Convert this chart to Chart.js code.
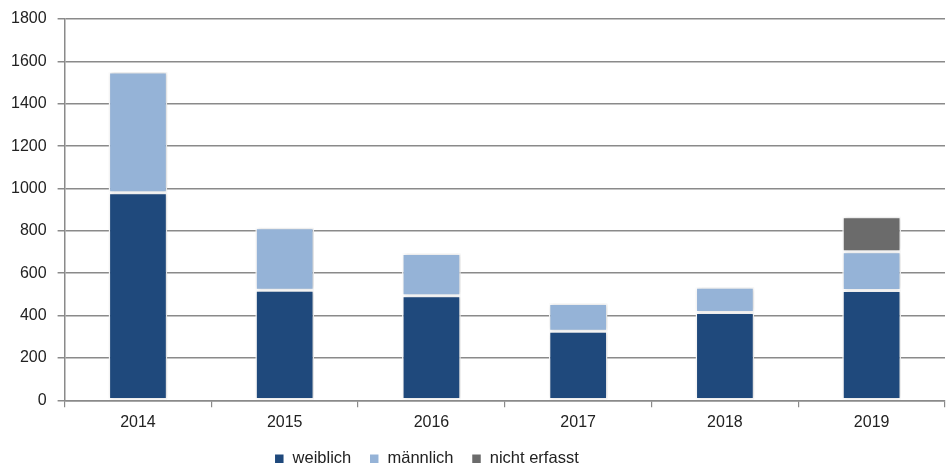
<!DOCTYPE html>
<html>
<head>
<meta charset="utf-8">
<script src="https://cdn.jsdelivr.net/npm/chart.js@4"></script>
<style>
html,body{margin:0;padding:0;background:#fff;}
#wrap{width:947px;height:470px;position:relative;}
</style>
</head>
<body>
<div id="wrap"><canvas id="c" width="947" height="470"></canvas></div>
<script>
const categories = ["2014", "2015", "2016", "2017", "2018", "2019"];
const weiblich = [980, 520, 493, 326, 414, 518];
const maennlich = [570, 294, 200, 131, 120, 183];
const nichtErfasst = [null, null, null, null, null, 165];
const seriesLabels = ["weiblich", "männlich", "nicht erfasst"];
const yTicks = [0, 200, 400, 600, 800, 1000, 1200, 1400, 1600, 1800];

const FONT = "'Liberation Sans', Arial, sans-serif";

const legendTweak = {
  id: 'legendTweak',
  beforeLayout(chart) {
    const l = chart.legend;
    if (l && !l._patched) {
      const f = l.fit.bind(l);
      l.fit = function () { f(); this.height -= 13; };
      l._patched = true;
    }
  },
  afterLayout(chart) {
    const l = chart.legend;
    if (l) { l.left -= 46; l.right -= 46; l.top -= 6; l.bottom -= 6; }
  }
};
const barShadow = {
  id: 'barShadow',
  beforeDatasetsDraw(chart) {
    const ctx = chart.ctx;
    ctx.save();
    ctx.shadowColor = 'rgba(0,0,0,0.18)';
    ctx.shadowBlur = 4;
    ctx.shadowOffsetX = 1;
    ctx.shadowOffsetY = 0;
  },
  afterDatasetsDraw(chart) { chart.ctx.restore(); }
};

const mk = (label, data, color) => ({
  label, data, backgroundColor: color, borderColor: '#ffffff', borderWidth: 1.5,
  categoryPercentage: 1.0, barPercentage: 0.40, borderSkipped: false
});

new Chart(document.getElementById('c'), {
  type: 'bar',
  data: {
    labels: categories,
    datasets: [
      mk(seriesLabels[0], weiblich, '#1f497c'),
      mk(seriesLabels[1], maennlich, '#95b3d7'),
      mk(seriesLabels[2], nichtErfasst, '#6b6b6b')
    ]
  },
  options: {
    responsive: false,
    animation: false,
    devicePixelRatio: 1,
    layout: { padding: { left: 0, right: 2, top: 2, bottom: 0 } },
    plugins: {
      legend: {
        position: 'bottom',
        labels: {
          boxWidth: 10, boxHeight: 10, padding: 18,
          color: '#222', font: { family: FONT, size: 16.5 }
        }
      },
      tooltip: { enabled: false }
    },
    scales: {
      x: {
        stacked: true,
        grid: { display: true, drawOnChartArea: false, drawTicks: true, tickLength: 7, color: '#8a8a8a', lineWidth: 1.2, offset: true },
        border: { display: true, color: '#8a8a8a', width: 1.5 },
        ticks: { color: '#222', font: { family: FONT, size: 16 }, padding: 6 }
      },
      y: {
        stacked: true,
        min: 0, max: 1800,
        afterBuildTicks(scale) { scale.ticks = yTicks.map(v => ({ value: v })); },
        grid: { color: '#8a8a8a', lineWidth: 1.5, drawTicks: true, tickLength: 7 },
        border: { display: true, color: '#8a8a8a', width: 1.5 },
        ticks: { color: '#222', font: { family: FONT, size: 16, lineHeight: 1.0 }, padding: 11, callback: v => String(v) }
      }
    }
  },
  plugins: [legendTweak, barShadow]
});
</script>
</body>
</html>
